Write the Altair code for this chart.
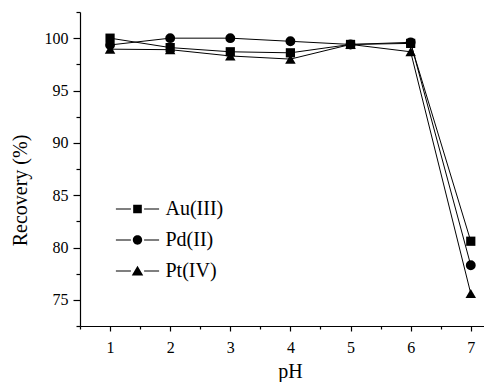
import altair as alt
import pandas as pd

ph = [1, 2, 3, 4, 5, 6, 7]
au = [100.0, 99.1, 98.7, 98.6, 99.4, 99.5, 80.6]
pd_ii = [99.35, 100.0, 100.0, 99.7, 99.4, 99.6, 78.3]
pt = [98.95, 98.9, 98.3, 98.0, 99.4, 98.7, 75.6]
series = ["Au(III)", "Pd(II)", "Pt(IV)"]
x_major = [1, 2, 3, 4, 5, 6, 7]
x_minor = [0.5, 1.5, 2.5, 3.5, 4.5, 5.5, 6.5]
y_major = [75, 80, 85, 90, 95, 100]
y_minor = [72.5, 77.5, 82.5, 87.5, 92.5, 97.5, 102.5]

rows = []
for name, vals in zip(series, [au, pd_ii, pt]):
    for x, v in zip(ph, vals):
        rows.append({"pH": x, "Recovery": v, "Series": name})
df = pd.DataFrame(rows)

FONT = "Liberation Serif"
xscale = alt.Scale(domain=[0.5, 7.22], nice=False, zero=False)
yscale = alt.Scale(domain=[72.5, 102.5], nice=False, zero=False)

# legend symbols: line stub - marker - line stub (custom filled paths in [-1,1] units)
stubs = "M-1.8,-0.045H-0.55V0.045H-1.8ZM0.55,-0.045H1.8V0.045H0.55Z"
sq_path = stubs + "M-0.36,-0.36H0.36V0.36H-0.36Z"
ci_path = stubs + "M-0.39,0A0.39,0.39 0 1,0 0.39,0A0.39,0.39 0 1,0 -0.39,0Z"
tr_path = stubs + "M0,-0.44L0.48,0.38L-0.48,0.38Z"

base = alt.Chart(df)

lines = base.mark_line(color="black", strokeWidth=1).encode(
    x=alt.X("pH:Q", scale=xscale,
            axis=alt.Axis(values=x_major, tickSize=5, labelPadding=8, title="pH",
                          titleX=210, titleY=51, titleBaseline="alphabetic", titleAlign="center",
                          orient="bottom")),
    y=alt.Y("Recovery:Q", scale=yscale,
            axis=alt.Axis(values=y_major, tickSize=7, labelPadding=5, title="Recovery (%)",
                          titleX=-60, titleY=178, titleAngle=270, titleBaseline="middle",
                          titleAlign="center", orient="left")),
    detail="Series:N",
)

points = base.mark_point(filled=True, color="black", opacity=1).encode(
    x=alt.X("pH:Q", scale=xscale,
            axis=alt.Axis(values=x_minor, tickSize=3, labels=False, domain=False, title=None,
                          orient="bottom")),
    y=alt.Y("Recovery:Q", scale=yscale,
            axis=alt.Axis(values=y_minor, tickSize=4, labels=False, domain=False, title=None,
                          orient="left")),
    shape=alt.Shape("Series:N", scale=alt.Scale(domain=series, range=["square", "circle", "triangle-up"]),
                    legend=None),
    size=alt.Size("Series:N", scale=alt.Scale(domain=series, range=[85, 110, 150]), legend=None),
)

legend_layer = base.transform_filter("false").mark_point(
    filled=True, color="black", opacity=1
).encode(
    shape=alt.Shape("Series:N", scale=alt.Scale(domain=series, range=[sq_path, ci_path, tr_path]),
                    legend=alt.Legend(orient="none", legendX=44.5, legendY=184, title=None,
                                      symbolSize=576, labelFont=FONT, labelFontSize=20,
                                      labelColor="black", labelOffset=15, rowPadding=8,
                                      padding=0, symbolFillColor="black", symbolOpacity=1)),
)

chart = alt.layer(lines, points, legend_layer).resolve_scale(
    shape="independent", size="independent"
).resolve_axis(
    x="independent", y="independent"
).properties(
    width=404, height=314,
    autosize=alt.AutoSizeParams(type="none"),
    padding={"left": 72, "top": 4, "right": 0, "bottom": 56},
).configure_view(stroke=None).configure_axis(
    grid=False, domainColor="black", tickColor="black", labelColor="black", titleColor="black",
    labelFont=FONT, titleFont=FONT, labelFontSize=16, titleFontSize=20, titleFontWeight="normal",
    domainWidth=1.2, tickWidth=1.2,
)

chart.save("out.html", embed_options={"renderer": "svg", "actions": False})
